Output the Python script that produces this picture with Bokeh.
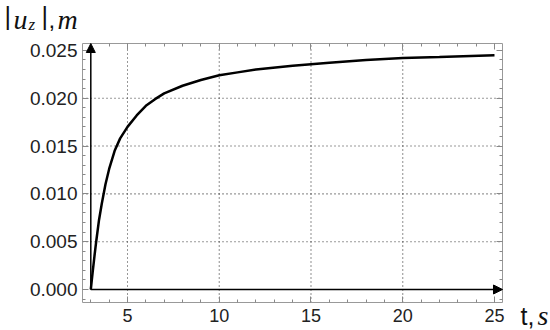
from bokeh.plotting import figure
from bokeh.models import (Range1d, FixedTicker, LinearAxis, Arrow, NormalHead,
                          CustomJSTickFormatter, NumeralTickFormatter)
from bokeh.core.properties import value
from bokeh.embed import file_html
from bokeh.resources import INLINE

# data
t_values = [3.0, 3.05, 3.1, 3.2, 3.3, 3.45, 3.6, 3.8, 4.0, 4.3, 4.6, 5.0, 5.5,
            6.0, 6.5, 7.0, 8.0, 9.0, 10.0, 11.0, 12.0, 14.0, 16.0, 18.0, 20.0,
            22.0, 25.0]
uz_values = [0.0, 0.0009, 0.0018, 0.0035, 0.0051, 0.0073, 0.0090, 0.0110,
             0.0126, 0.0145, 0.0158, 0.0170, 0.0182, 0.0192, 0.0199, 0.0205,
             0.0213, 0.0219, 0.0224, 0.0227, 0.0230, 0.0234, 0.0237, 0.0240,
             0.0242, 0.0243, 0.0245]

x_major = [5, 10, 15, 20, 25]
x_minor = list(range(3, 26))
y_major = [0.0, 0.005, 0.010, 0.015, 0.020, 0.025]
y_minor = [-0.001, 0.0, 0.001, 0.002, 0.003, 0.004, 0.005, 0.006, 0.007, 0.008,
           0.009, 0.010, 0.011, 0.012, 0.013, 0.014, 0.015, 0.016, 0.017, 0.018,
           0.019, 0.020, 0.021, 0.022, 0.023, 0.024, 0.025]
x_grid = [5, 10, 15, 20]
y_grid = [0.0, 0.005, 0.010, 0.015, 0.020]

# visible plot box (axis extents)
fx0, fx1 = 2.548, 25.436
fy0, fy1 = -0.00136, 0.02572
# whole canvas in data units (room for tick labels and titles)
cx0, cx1 = -1.921, 28.052
cy0, cy1 = -0.004287, 0.030216

W, H = 550, 330

p = figure(width=W, height=H, x_range=Range1d(cx0, cx1),
           y_range=Range1d(cy0, cy1), output_backend="svg",
           toolbar_location=None, x_axis_type=None, y_axis_type=None,
           min_border=0, min_border_left=0, min_border_right=0,
           min_border_top=0, min_border_bottom=0)
p.background_fill_color = "white"
p.border_fill_color = "white"
p.outline_line_color = None
p.grid.visible = False

def px(x):   # pixel column -> data x
    return cx0 + x / W * (cx1 - cx0)

def py(y):   # pixel row (from top) -> data y
    return cy1 - y / H * (cy1 - cy0)

def make_axis(ticker, loc, bounds, formatter, size="18px", standoff=0):
    ax = LinearAxis(ticker=ticker, fixed_location=loc, bounds=bounds,
                    formatter=formatter)
    ax.axis_line_color = "#999999"
    ax.axis_line_width = 1
    ax.major_tick_in = 6
    ax.major_tick_out = 0
    ax.minor_tick_in = 3
    ax.minor_tick_out = 0
    ax.major_tick_line_color = "#888888"
    ax.minor_tick_line_color = "#888888"
    ax.major_label_text_font = "Liberation Sans"
    ax.major_label_text_font_size = size
    ax.major_label_text_color = "#222222"
    ax.major_label_standoff = standoff
    return ax

blank = CustomJSTickFormatter(code="return ''")
p.add_layout(make_axis(FixedTicker(ticks=y_major, minor_ticks=y_minor), fx0,
                       (fy0, fy1), NumeralTickFormatter(format="0.000"),
                       "19px", 5), "left")
p.add_layout(make_axis(FixedTicker(ticks=x_major, minor_ticks=x_minor), fy0,
                       (fx0, fx1), NumeralTickFormatter(format="0"),
                       "18px", 6), "below")
p.add_layout(make_axis(FixedTicker(ticks=y_major, minor_ticks=y_minor), fx1,
                       (fy0, fy1), blank), "right")
p.add_layout(make_axis(FixedTicker(ticks=x_major, minor_ticks=x_minor), fy1,
                       (fx0, fx1), blank), "above")

# dotted grid inside the box
p.segment(x0=x_grid, y0=[fy0] * len(x_grid), x1=x_grid, y1=[fy1] * len(x_grid),
          line_dash="1 3", line_color="#333333", line_width=1.1)
p.segment(x0=[fx0] * len(y_grid), y0=y_grid, x1=[fx1] * len(y_grid), y1=y_grid,
          line_dash="1 3", line_color="#333333", line_width=1.1)

# axes arrows
p.add_layout(Arrow(end=NormalHead(size=9, fill_color="black", line_color="black"),
                   x_start=t_values[0], y_start=uz_values[0],
                   x_end=t_values[0], y_end=fy1,
                   line_width=1.5, line_color="black"))
p.add_layout(Arrow(end=NormalHead(size=9, fill_color="black", line_color="black"),
                   x_start=t_values[0], y_start=uz_values[0],
                   x_end=fx1, y_end=uz_values[0],
                   line_width=1.5, line_color="black"))

p.line(t_values, uz_values, line_width=2.5, color="black")

def txt(x, y, s, font="Liberation Sans", size="26px", style="normal"):
    p.text(x=[px(x)], y=[py(y)], text=[s], text_font=value(font),
           text_font_size=size, text_font_style=style,
           text_baseline="alphabetic", text_align="left", text_color="#111111")

# |u_z|, m
txt(4, 15, "|", size="25px")
txt(13, 19, "u", font="Liberation Serif", size="28px", style="italic")
txt(28, 24, "z", font="Liberation Serif", size="17px", style="italic")
txt(41, 15, "|", size="25px")
txt(48, 19, ",", size="24px")
txt(57, 19, "m", font="Liberation Serif", size="28px", style="italic")

# t, s
txt(520, 315, "t,", size="25px")
txt(537, 315, "s", font="Liberation Serif", size="28px", style="italic")

open("out.html", "w").write(file_html(p, INLINE))
